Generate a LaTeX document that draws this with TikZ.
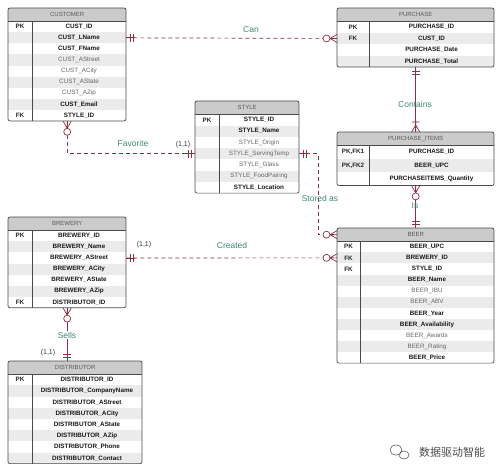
\documentclass[tikz,border=0pt]{standalone}
\usepackage{fontspec}
\setsansfont{Liberation Sans}
\newfontfamily\cjk{Noto Sans CJK SC}
\usetikzlibrary{calc}

\definecolor{relred}{HTML}{8E2E40}
\definecolor{relgreen}{HTML}{3C8C6E}
\definecolor{headgray}{HTML}{CBCBCB}
\definecolor{rowgray}{HTML}{EBEBEB}
\definecolor{framegray}{HTML}{4A4A4A}

\def\headh{13}
\def\rowh{11.1}
\newcommand{\erb}{\bfseries\color{black!90}}
\newcommand{\ern}{\mdseries\color{black!60}}

\tikzset{
  erhead/.style={rectangle, fill=headgray, anchor=north west, inner sep=0pt,
    minimum height=\headh pt, font=\sffamily\fontsize{6}{7}\selectfont, text=black!65},
  errow/.style={rectangle, anchor=north west, inner sep=0pt, minimum height=\rowh pt},
  erkey/.style={inner sep=0pt, font=\sffamily\bfseries\fontsize{6.3}{7}\selectfont, text=black!85},
  erfield/.style={inner sep=0pt, font=\sffamily\fontsize{6.3}{7}\selectfont},
  erframe/.style={draw=framegray, line width=0.7pt},
  rel/.style={draw=relred, line width=0.7pt, dash pattern=on 4pt off 3pt},
  relsolid/.style={draw=relred, line width=0.7pt},
  erend/.style={draw=relred, line width=0.7pt, solid},
  rellabel/.style={inner sep=1pt, font=\sffamily\fontsize{8.5}{10}\selectfont, text=relgreen},
  cardlabel/.style={inner sep=1pt, font=\sffamily\fontsize{7}{8}\selectfont, text=black!80},
  pics/onlyone/.style={code={
    \draw[erend] (0,0) -- (9,0) (4,-4) -- (4,4) (7,-4) -- (7,4);}},
  pics/zeromany/.style={code={
    \draw[erend] (0,-4) -- (7,0) -- (0,4) (0,0) -- (7,0);
    \draw[erend, fill=white] (10.5,0) circle (3.5pt);}},
  pics/onemany/.style={code={
    \draw[erend] (0,-4) -- (7,0) -- (0,4) (0,0) -- (12,0) (10,-4) -- (10,4);}}
}

% #1 name, #2 left, #3 top, #4 width, #5 key width, #6 rows, #7 title, #8 key/field/font
\newcommand{\ertable}[8]{%
  \node[erhead, minimum width=#4pt] (#1) at (#2,#3) {#7};
  \foreach \k/\f/\w [count=\i] in {#8} {
    \pgfmathsetmacro{\ry}{#3+\headh+(\i-1)*\rowh}
    \pgfmathtruncatemacro{\odd}{mod(\i,2)}
    \ifnum\odd=0 \def\rowfill{rowgray}\else\def\rowfill{white}\fi
    \node[errow, fill=\rowfill, minimum width=#4pt] (#1-\i) at (#2,\ry) {};
    \node[erkey] (#1-\i-k) at ($(#1-\i.west)+(#5/2,0)$) {\k};
    \node[erfield] (#1-\i-f) at ($(#1-\i.west)+(#5/2+#4/2,0)$) {\w\f};
  }
  \draw[erframe] (#2,#3+\headh) -- ++(#4,0)
    (#2+#5,#3+\headh) -- ++(0,#6*\rowh);
  \draw[erframe, rounded corners=2pt] (#2,#3) rectangle ++(#4,\headh+#6*\rowh);
}

\begin{document}
\begin{tikzpicture}[x=1pt, y=-1pt]
  \useasboundingbox[fill=white] (0,0) rectangle (500,468);

  % entities
  \def\rowh{11.1}
  \ertable{customer}{8}{8}{118}{24}{9}{CUSTOMER}{
    PK/CUST\_ID/\erb, {}/CUST\_LName/\erb, {}/CUST\_FName/\erb,
    {}/CUST\_AStreet/\ern, {}/CUST\_ACity/\ern, {}/CUST\_AState/\ern,
    {}/CUST\_AZip/\ern, {}/CUST\_Email/\erb, FK/STYLE\_ID/\erb}
  \def\rowh{11.3}
  \ertable{style}{195}{101}{104}{24}{7}{STYLE}{
    PK/STYLE\_ID/\erb, {}/STYLE\_Name/\erb, {}/STYLE\_Origin/\ern,
    {}/STYLE\_ServingTemp/\ern, {}/STYLE\_Glass/\ern,
    {}/STYLE\_FoodPairing/\ern, {}/STYLE\_Location/\erb}
  \def\rowh{11.5}
  \ertable{purchase}{337}{8}{157}{32}{4}{PURCHASE}{
    PK/PURCHASE\_ID/\erb, FK/CUST\_ID/\erb,
    {}/PURCHASE\_Date/\erb, {}/PURCHASE\_Total/\erb}
  \def\rowh{13.5}
  \ertable{purchaseitems}{337}{132}{157}{32}{3}{PURCHASE\_ITEMS}{
    {PK,FK1}/PURCHASE\_ID/\erb, {PK,FK2}/BEER\_UPC/\erb,
    {}/PURCHASEITEMS\_Quantity/\erb}
  \def\rowh{11.1}
  \ertable{beer}{337}{228}{157}{23}{11}{BEER}{
    PK/BEER\_UPC/\erb, FK/BREWERY\_ID/\erb, FK/STYLE\_ID/\erb,
    {}/BEER\_Name/\erb, {}/BEER\_IBU/\ern, {}/BEER\_ABV/\ern,
    {}/BEER\_Year/\erb, {}/BEER\_Availability/\erb, {}/BEER\_Awards/\ern,
    {}/BEER\_Rating/\ern, {}/BEER\_Price/\erb}
  \ertable{brewery}{8}{217}{118}{24}{7}{BREWERY}{
    PK/BREWERY\_ID/\erb, {}/BREWERY\_Name/\erb, {}/BREWERY\_AStreet/\erb,
    {}/BREWERY\_ACity/\erb, {}/BREWERY\_AState/\erb,
    {}/BREWERY\_AZip/\erb, FK/DISTRIBUTOR\_ID/\erb}
  \def\rowh{11.2}
  \ertable{distributor}{8}{361}{134}{24}{8}{DISTRIBUTOR}{
    PK/DISTRIBUTOR\_ID/\erb, {}/DISTRIBUTOR\_CompanyName/\erb,
    {}/DISTRIBUTOR\_AStreet/\erb, {}/DISTRIBUTOR\_ACity/\erb,
    {}/DISTRIBUTOR\_AState/\erb, {}/DISTRIBUTOR\_AZip/\erb,
    {}/DISTRIBUTOR\_Phone/\erb, {}/DISTRIBUTOR\_Contact/\erb}

  % relationships
  \draw[rel] (customer-2.east) -- (purchase-2.west);
  \pic at (customer-2.east) {onlyone};
  \pic[rotate=180] at (purchase-2.west) {zeromany};
  \node[rellabel] (can) at (251,30) {Can};

  \draw[rel] (customer-9.south) |- (style-4.west);
  \pic[rotate=-90] at (customer-9.south) {zeromany};
  \pic[rotate=180] at (style-4.west) {onlyone};
  \node[rellabel] (favorite) at (133,143) {Favorite};
  \node[cardlabel] (favorite-card) at (183,145) {(1,1)};

  \draw[rel] (style-4.east) -- ++(19,0) |- (beer.west);
  \pic at (style-4.east) {onlyone};
  \pic[rotate=180] at (beer.west) {zeromany};
  \node[rellabel] (storedas) at (320,198) {Stored as};

  \draw[relsolid] (purchase-4.south) -- (purchaseitems.north);
  \pic[rotate=-90] at (purchase-4.south) {onlyone};
  \pic[rotate=90] at (purchaseitems.north) {onemany};
  \node[rellabel] (contains) at (415,104) {Contains};

  \draw[relsolid] (purchaseitems-3.south) -- (beer.north);
  \pic[rotate=-90] at (purchaseitems-3.south) {zeromany};
  \pic[rotate=90] at (beer.north) {onlyone};
  \node[rellabel] (is) at (415,206) {Is};

  \draw[rel] (brewery-3.east) -- (beer-2.west);
  \pic at (brewery-3.east) {onlyone};
  \pic[rotate=180] at (beer-2.west) {zeromany};
  \node[rellabel] (created) at (232,245) {Created};
  \node[cardlabel] (created-card) at (144,245) {(1,1)};

  \coordinate (sells-end) at (brewery-7.south |- distributor.north);
  \draw[relsolid] (brewery-7.south) -- (sells-end);
  \pic[rotate=-90] at (brewery-7.south) {zeromany};
  \pic[rotate=90] at (sells-end) {onlyone};
  \node[rellabel, fill=white] (sells) at (67,335) {Sells};
  \node[cardlabel] (sells-card) at (48,353) {(1,1)};

  % watermark
  \draw[black!65, line width=0.6pt] (396,450) ellipse (6pt and 5pt)
    (404,455) ellipse (5pt and 4pt);
  \node[font=\cjk\fontsize{11}{12}\selectfont, text=black!70] (mark) at (452,452) {数据驱动智能};
\end{tikzpicture}
\end{document}
